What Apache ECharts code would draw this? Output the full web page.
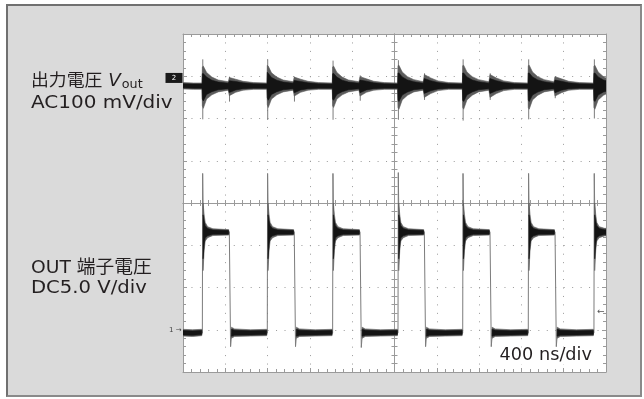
<!DOCTYPE html>
<html><head><meta charset="utf-8">
<script src="https://cdn.jsdelivr.net/npm/echarts@6/dist/echarts.min.js"></script>
<style>
html,body{margin:0;padding:0;background:#fff;}
#frame{position:absolute;left:6px;top:4px;width:632px;height:389px;background:#dadada;border:2px solid #707070;border-right-color:#8a8a8a;border-bottom-color:#8a8a8a;}
#chart{position:absolute;left:0;top:0;width:644px;height:399px;}
</style></head><body><div id="frame"></div><div id="chart"></div>
<script>
// ---- horizontal scale: 400 ns/div, 10 divisions ----
var timeMin = 0, timeMax = 4000, timeStep = 400;
// ---- channel 2: output voltage Vout, AC 100 mV/div (values in mV) ----
var voutMin = -680, voutMax = 120;
var voutT  = [0, 100, 180,
  183, 192, 223, 273, 333, 428, 438, 498, 568, 668, 794,
  797, 806, 837, 887, 947, 1042, 1052, 1112, 1182, 1282, 1412,
  1415, 1424, 1455, 1505, 1565, 1664, 1674, 1734, 1804, 1904, 2030,
  2033, 2042, 2073, 2123, 2183, 2272, 2282, 2342, 2412, 2512, 2642,
  2645, 2654, 2685, 2735, 2795, 2893, 2903, 2963, 3033, 3133, 3262,
  3265, 3274, 3305, 3355, 3415, 3508, 3518, 3578, 3648, 3748, 3883,
  3886, 3895, 3926, 3976, 4000];
var voutHi = [5, 4, 4,
  42, 44, 29, 18, 11, 7, 17, 13, 8, 5, 4,
  46, 44, 28, 18, 11, 7, 18, 13, 8, 5, 4,
  42, 44, 29, 18, 11, 7, 19, 14, 8, 5, 4,
  45, 46, 30, 19, 12, 7, 24, 16, 9, 5, 4,
  45, 46, 30, 19, 12, 7, 24, 16, 9, 5, 4,
  45, 46, 30, 19, 12, 7, 19, 14, 8, 5, 4,
  44, 46, 30, 19, 16];
var voutLo = [-10, -11, -11,
  -50, -56, -34, -24, -17, -13, -26, -18, -13, -11, -11,
  -48, -54, -34, -24, -17, -13, -27, -18, -13, -11, -11,
  -50, -54, -34, -24, -17, -13, -27, -18, -13, -11, -11,
  -54, -58, -36, -25, -17, -13, -30, -21, -14, -11, -11,
  -54, -58, -36, -25, -17, -13, -30, -21, -14, -11, -11,
  -54, -58, -36, -25, -17, -13, -27, -19, -13, -11, -11,
  -54, -58, -36, -25, -22];
var voutSpikeT  = [187, 440, 801, 1054, 1419, 1676, 2037, 2284, 2649, 2905, 3269, 3520, 3890];
var voutSpikeHi = [60, 19, 60, 19, 57, 22, 58, 27, 60, 27, 60, 19, 60];
var voutSpikeLo = [-82, -40, -83, -40, -83, -38, -83, -36, -85, -36, -82, -32, -80];
var voutMarkerMv = 16;
// ---- channel 1: OUT pin voltage, DC 5.0 V/div (values in V) ----
var outMin = -5, outMax = 35;
var outRiseT = [183, 797, 1415, 2033, 2645, 3265, 3886];
var outFallT = [438, 1052, 1674, 2282, 2903, 3518];
var outRisePeakV = [18.5, 18.5, 18.5, 18.6, 18.5, 18.5, 18.5];
var outFallDipV = [-2.0, -2.0, -2.1, -2.0, -2.0, -2.0];
var outLowV = -0.4, outHighV = 11.6, outTrigV = 2.1;
var outBandT  = [0, 90, 178, null,
  190, 200, 210, 233, 283, 432, null, 458, 488, 640, 792, null,
  804, 814, 824, 847, 897, 1046, null, 1072, 1102, 1250, 1410, null,
  1422, 1432, 1442, 1465, 1515, 1668, null, 1694, 1724, 1870, 2028, null,
  2040, 2050, 2060, 2083, 2133, 2276, null, 2302, 2332, 2480, 2640, null,
  2652, 2662, 2672, 2695, 2745, 2897, null, 2923, 2953, 3100, 3260, null,
  3272, 3282, 3292, 3315, 3365, 3512, null, 3538, 3568, 3720, 3881, null,
  3893, 3903, 3913, 3936, 3986, 4000];
var outBandHi = [0.05, 0.0, 0.05, null,
  15.0, 13.6, 12.7, 12.2, 11.95, 11.85, null, 0.3, 0.1, 0.0, 0.05, null,
  15.0, 13.6, 12.7, 12.2, 11.95, 11.85, null, 0.3, 0.1, 0.0, 0.05, null,
  15.0, 13.6, 12.7, 12.2, 11.95, 11.85, null, 0.3, 0.1, 0.0, 0.05, null,
  15.0, 13.6, 12.7, 12.2, 11.95, 11.85, null, 0.3, 0.1, 0.0, 0.05, null,
  15.0, 13.6, 12.7, 12.2, 11.95, 11.85, null, 0.3, 0.1, 0.0, 0.05, null,
  15.0, 13.6, 12.7, 12.2, 11.95, 11.85, null, 0.3, 0.1, 0.0, 0.05, null,
  15.0, 13.6, 12.7, 12.2, 12.0, 12.0];
var outBandLo = [-0.75, -0.8, -0.7, null,
  7.0, 9.4, 10.5, 10.9, 11.15, 11.2, null, -1.0, -0.8, -0.75, -0.7, null,
  7.0, 9.4, 10.5, 10.9, 11.15, 11.2, null, -1.0, -0.8, -0.75, -0.7, null,
  7.0, 9.4, 10.5, 10.9, 11.15, 11.2, null, -1.0, -0.8, -0.75, -0.7, null,
  7.0, 9.4, 10.5, 10.9, 11.15, 11.2, null, -1.0, -0.8, -0.75, -0.7, null,
  7.0, 9.4, 10.5, 10.9, 11.15, 11.2, null, -1.0, -0.8, -0.75, -0.7, null,
  7.0, 9.4, 10.5, 10.9, 11.15, 11.2, null, -1.0, -0.8, -0.75, -0.7, null,
  7.0, 9.4, 10.5, 10.9, 11.1, 11.1];
// ---- labels ----
var ch2Title = '出力電圧', ch2Scale = 'AC100 mV/div';
var ch1Title = 'OUT 端子電圧', ch1Scale = 'DC5.0 V/div';
var timeScale = '400 ns/div';

var gridCol = '#9a9a9a', traceCol = '#141414', fuzzCol = '#5c5c5c', edgeCol = '#7c7c7c', textCol = '#231f20';
var latinFont = "'DejaVu Sans', 'Noto Sans CJK JP', sans-serif";
var coreShare = 0.65;

// OUT polyline from the measured edges
var outLine = [[timeMin, outLowV]];
for (var i = 0; i < outRiseT.length; i++) {
  var r = outRiseT[i];
  outLine.push([r, outLowV], [r + 3, outRisePeakV[i]], [r + 12, outHighV - 2], [r + 30, outHighV]);
  if (i < outFallT.length) {
    var f = outFallT[i];
    outLine.push([f, outHighV], [f + 12, outFallDipV[i]], [f + 22, outLowV]);
  } else {
    outLine.push([timeMax, outHighV]);
  }
}
var spikeLine = [];
for (var j = 0; j < voutSpikeT.length; j++) {
  spikeLine.push([voutSpikeT[j], voutSpikeHi[j]], [voutSpikeT[j], voutSpikeLo[j]], [voutSpikeT[j], '-']);
}

function bandSeries(T, H, L, yIdx) {
  return {
    type: 'custom', xAxisIndex: 0, yAxisIndex: yIdx, clip: true, silent: true, z: 4,
    data: [[T[0], H[0]]], encode: {x: 0, y: 1},
    renderItem: function (params, api) {
      var children = [], up = [], dn = [], cu = [], cd = [];
      function flush() {
        if (up.length > 1) {
          children.push({type: 'polygon', shape: {points: up.concat(dn.slice().reverse())},
            style: {fill: fuzzCol, stroke: fuzzCol, lineWidth: 0.6}});
          children.push({type: 'polygon', shape: {points: cu.concat(cd.slice().reverse())},
            style: {fill: traceCol, stroke: traceCol, lineWidth: 0.6}});
        }
        up = []; dn = []; cu = []; cd = [];
      }
      for (var k = 0; k < T.length; k++) {
        if (T[k] === null) { flush(); continue; }
        var mid = (H[k] + L[k]) / 2, half = (H[k] - L[k]) / 2 * coreShare;
        up.push(api.coord([T[k], H[k]]));
        dn.push(api.coord([T[k], L[k]]));
        cu.push(api.coord([T[k], mid + half]));
        cd.push(api.coord([T[k], mid - half]));
      }
      flush();
      return {type: 'group', children: children};
    }
  };
}

function frameAxis(extra) {
  var base = {
    type: 'value', min: -5, max: 5, interval: 1,
    axisLine: {show: true, onZero: false, lineStyle: {color: gridCol, width: 1}},
    axisTick: {show: true, inside: true, length: 4, lineStyle: {color: gridCol}},
    minorTick: {show: true, splitNumber: 5, length: 3, lineStyle: {color: gridCol}},
    axisLabel: {show: false},
    splitLine: {show: false}
  };
  for (var key in extra) base[key] = extra[key];
  return base;
}

var chart = echarts.init(document.getElementById('chart'), null, {renderer: 'canvas'});
chart.setOption({
  animation: false,
  backgroundColor: 'transparent',
  textStyle: {fontFamily: latinFont},
  grid: {left: 183, top: 34, width: 423, height: 338, show: true, backgroundColor: '#ffffff', borderWidth: 0},
  xAxis: [
    frameAxis({min: timeMin, max: timeMax, interval: timeStep, position: 'bottom',
      splitLine: {show: true, lineStyle: {color: gridCol, width: 1, type: [1, 7.45]}}}),
    frameAxis({position: 'top'}),
    frameAxis({position: 'bottom', axisLine: {show: true, onZero: true, onZeroAxisIndex: 2, lineStyle: {color: gridCol, width: 1}},
      axisTick: {show: true, inside: true, length: 3, lineStyle: {color: gridCol}}}),
    frameAxis({position: 'bottom', axisLine: {show: true, onZero: true, onZeroAxisIndex: 2, lineStyle: {color: gridCol, width: 1}},
      axisTick: {show: true, inside: false, length: 3, lineStyle: {color: gridCol}}})
  ],
  yAxis: [
    {type: 'value', min: voutMin, max: voutMax, show: false, axisLine: {onZero: false}},
    {type: 'value', min: outMin, max: outMax, show: false, axisLine: {onZero: false}},
    frameAxis({min: -4, max: 4, position: 'left',
      splitLine: {show: true, lineStyle: {color: gridCol, width: 1, type: [1, 7.46]}}}),
    frameAxis({min: -4, max: 4, position: 'right'}),
    frameAxis({min: -4, max: 4, position: 'left', axisLine: {show: true, onZero: true, onZeroAxisIndex: 1, lineStyle: {color: gridCol, width: 1}},
      axisTick: {show: true, inside: true, length: 3, lineStyle: {color: gridCol}}}),
    frameAxis({min: -4, max: 4, position: 'left', axisLine: {show: true, onZero: true, onZeroAxisIndex: 1, lineStyle: {color: gridCol, width: 1}},
      axisTick: {show: true, inside: false, length: 3, lineStyle: {color: gridCol}}})
  ],
  series: [
    {type: 'line', xAxisIndex: 0, yAxisIndex: 1, data: outLine, symbol: 'none', z: 3,
      lineStyle: {color: edgeCol, width: 1},
      markPoint: {symbol: 'circle', symbolSize: 1, silent: true, itemStyle: {color: 'rgba(0,0,0,0)'},
        data: [
          {coord: [timeMin, 0], label: {show: true, formatter: '1 →', position: 'left', distance: 1, color: '#444', fontSize: 7}},
          {coord: [timeMax, outTrigV], label: {show: true, formatter: '←', position: 'left', distance: 1, color: '#555', fontSize: 9}}
        ]}},
    bandSeries(outBandT, outBandHi, outBandLo, 1),
    {type: 'line', xAxisIndex: 0, yAxisIndex: 0, data: spikeLine, symbol: 'none', z: 3, connectNulls: false,
      lineStyle: {color: edgeCol, width: 1},
      markPoint: {silent: true, data: [
        {coord: [timeMin, voutMarkerMv], symbol: 'rect', symbolSize: [17, 10], symbolOffset: [-9, 0],
          itemStyle: {color: '#1a1a1a'},
          label: {show: true, position: 'inside', formatter: '2', color: '#fff', fontSize: 7}}
      ]}},
    bandSeries(voutT, voutHi, voutLo, 0)
  ],
  graphic: [
    {type: 'text', x: 31, y: 81.5, scaleX: 1.02, silent: true, style: {
      text: '{a|' + ch2Title + '}{v| V}{s|out}', verticalAlign: 'middle', fill: textCol,
      rich: {a: {fontSize: 17.5, fontFamily: latinFont, fill: textCol},
             v: {fontSize: 18, fontStyle: 'italic', fontFamily: latinFont, fill: textCol},
             s: {fontSize: 12.5, fontFamily: latinFont, fill: textCol, padding: [6, 0, 0, 1]}}}},
    {type: 'text', x: 31, y: 103.5, scaleX: 1.11, silent: true, style: {text: ch2Scale, font: '18px ' + latinFont, fill: textCol, verticalAlign: 'middle'}},
    {type: 'text', x: 31, y: 268.5, scaleX: 1.04, silent: true, style: {text: ch1Title, font: '18px ' + latinFont, fill: textCol, verticalAlign: 'middle'}},
    {type: 'text', x: 31, y: 288.5, scaleX: 1.09, silent: true, style: {text: ch1Scale, font: '18px ' + latinFont, fill: textCol, verticalAlign: 'middle'}},
    {type: 'text', x: 593, y: 356, scaleX: 1.04, silent: true, z: 10, style: {text: timeScale, font: '17px ' + latinFont, fill: textCol, align: 'right', verticalAlign: 'middle', backgroundColor: '#fff', padding: [0, 1]}}
  ]
});
</script></body></html>
